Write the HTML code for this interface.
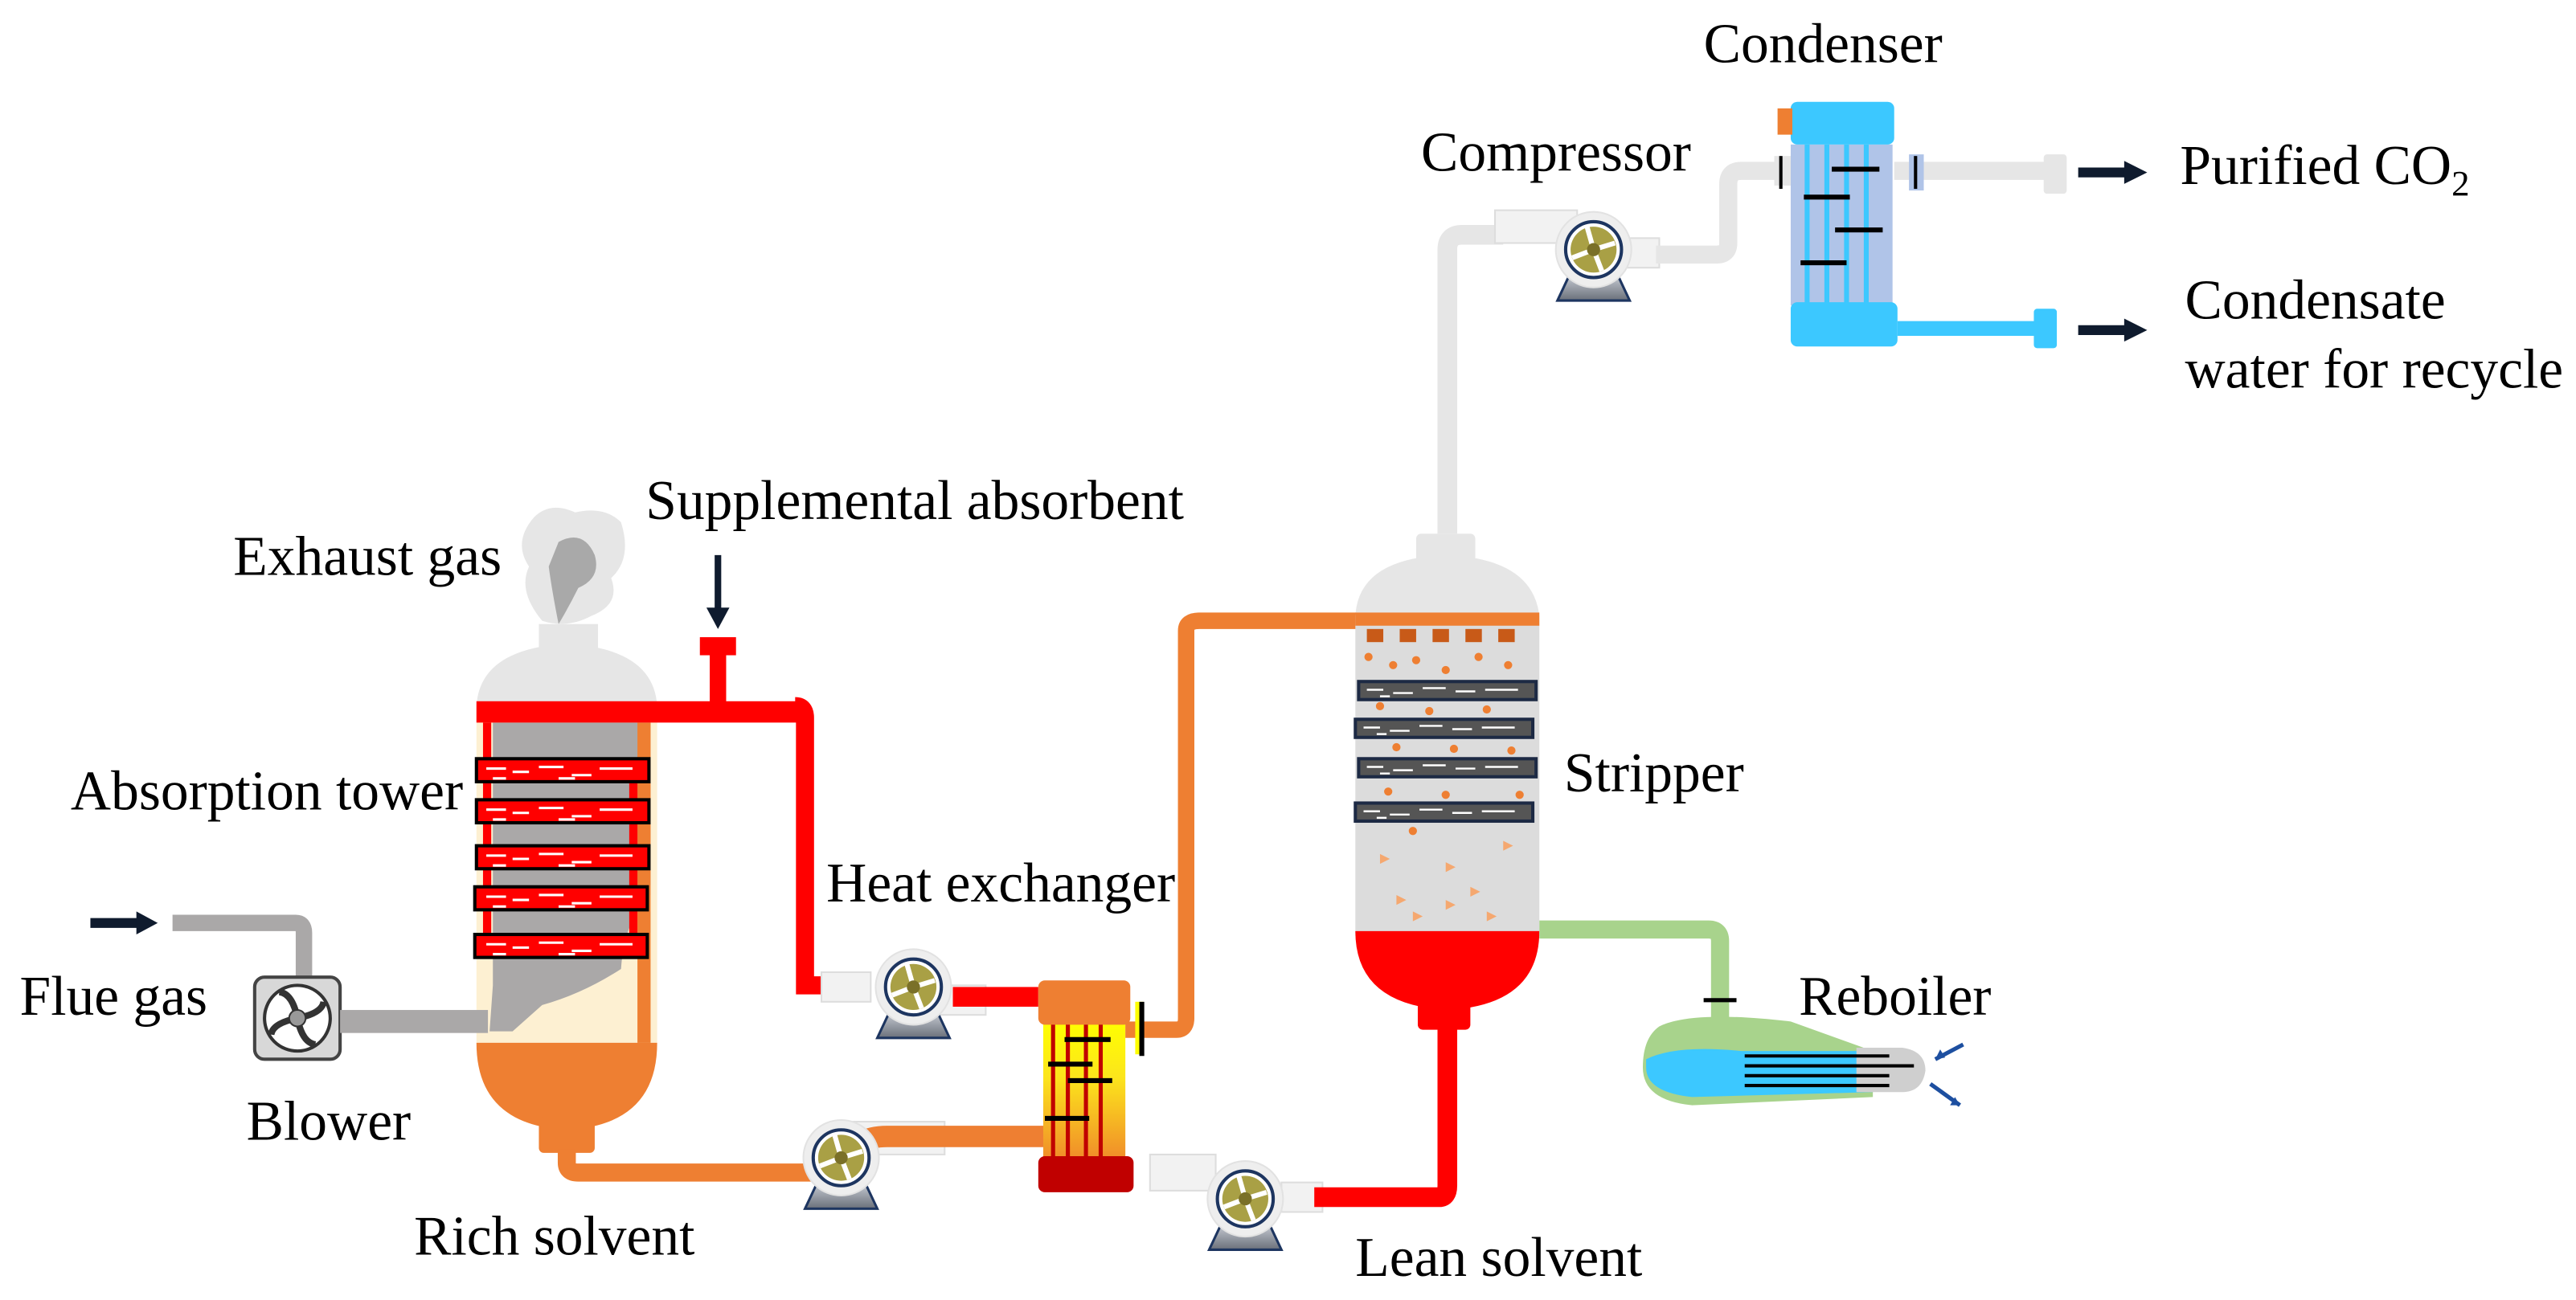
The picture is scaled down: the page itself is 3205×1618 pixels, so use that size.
<!DOCTYPE html>
<html><head><meta charset="utf-8"><style>
html,body{margin:0;padding:0;background:#fff;}
svg{display:block}
text{font-family:"Liberation Serif",serif;fill:#000;}
</style></head><body>
<svg width="3205" height="1618" viewBox="0 0 1568 791.6" xmlns="http://www.w3.org/2000/svg">
<defs>
<linearGradient id="hx" x1="0" y1="0" x2="0" y2="1"><stop offset="0" stop-color="#ffff00"/><stop offset="0.4" stop-color="#fce51c"/><stop offset="1" stop-color="#f08a2a"/></linearGradient>
<linearGradient id="base" x1="0" y1="0" x2="0" y2="1"><stop offset="0" stop-color="#d0d4dc"/><stop offset="1" stop-color="#6a707a"/></linearGradient>
<g id="pump">
<path d="M-14,14 L-22,31 L22,31 L14,14 Z" fill="url(#base)" stroke="#1d3560" stroke-width="1.5"/>
<circle r="23" fill="#eee" stroke="#e2e2e2"/>
<circle r="17" fill="#fff" stroke="#1d3560" stroke-width="2"/>
<circle r="14" fill="#a9a045"/>
<path d="M0,0 L-4,-14 M0,0 L13,-4 M0,0 L5,13 M0,0 L-13,5" stroke="#fff" stroke-width="3"/>
<circle r="4" fill="#7a7028"/>
</g>
</defs>

<!-- Smoke -->
<path d="M325,315 Q335,305 350,312 Q368,308 378,318 Q385,340 372,352 Q378,368 360,375 Q345,383 330,378 Q315,360 322,345 Q312,330 325,315 Z" fill="#e6e6e6"/>
<path d="M340,330 Q355,322 362,338 Q366,352 352,358 Q346,370 340,380 Q336,360 334,345 Z" fill="#a9a9a9"/>

<!-- Absorption tower -->
<rect x="328" y="380" width="36" height="20" fill="#e6e6e6"/>
<path d="M290,430 Q292,395 345,392 Q398,395 400,430 Z" fill="#e6e6e6"/>
<rect x="290" y="430" width="110" height="205" fill="#fdf0d2"/>
<path d="M296,440 L396,440 L396,545 Q380,560 378,590 Q355,605 330,612 L312,628 L298,628 L300,600 L300,440 Z" fill="#aaa8a8"/>
<path d="M290,635 L400,635 Q400,685 345,688 Q290,685 290,635 Z" fill="#ee7f32"/>
<rect x="328" y="680" width="34" height="22" rx="3" fill="#ee7f32"/>
<rect x="388" y="440" width="8" height="195" fill="#ee7f32"/>
<rect x="294" y="440" width="5" height="140" fill="#ff0000"/>
<rect x="383" y="470" width="5" height="100" fill="#ff0000"/>
<g stroke="#000" stroke-width="2" fill="#ff0000">
<rect x="290" y="462" width="105" height="14"/>
<rect x="290" y="487" width="105" height="14"/>
<rect x="290" y="515" width="105" height="14"/>
<rect x="289" y="540" width="105" height="14"/>
<rect x="289" y="569" width="105" height="14"/>
</g>
<g stroke="#fff" stroke-width="1.5">
<path d="M296,468h12M312,470h10M328,467h15M348,472h12M365,468h20M300,474h8M340,474h10"/>
<path d="M296,493h12M312,495h10M328,492h15M348,497h12M365,493h20M300,499h8M340,499h10"/>
<path d="M296,521h12M312,523h10M328,520h15M348,525h12M365,521h20M300,527h8M340,527h10"/>
<path d="M296,546h12M312,548h10M328,545h15M348,550h12M365,546h20M300,552h8M340,552h10"/>
<path d="M296,575h12M312,577h10M328,574h15M348,579h12M365,575h20M300,581h8M340,581h10"/>
</g>

<!-- Red top pipe -->
<rect x="290" y="427" width="200" height="13" fill="#ff0000"/>
<path d="M484,430 Q490,430 490,437 L490,600 L528,600" stroke="#ff0000" stroke-width="11" fill="none"/>
<rect x="432" y="396" width="10" height="34" fill="#ff0000"/>
<rect x="426" y="388" width="22" height="11" fill="#ff0000"/>
<path d="M437,338 V374" stroke="#0f1b2e" stroke-width="4"/>
<path d="M430,370 L437,383 L444,370 Z" fill="#0f1b2e"/>

<!-- Flue gas -->
<path d="M55,562 H85" stroke="#0f1b2e" stroke-width="6"/>
<path d="M83,555 L96,562 L83,569 Z" fill="#0f1b2e"/>
<path d="M105,562 H180 Q185,562 185,568 V595" stroke="#aaa8a8" stroke-width="10" fill="none"/>
<rect x="155" y="595" width="52" height="50" rx="6" fill="#d8d8d8" stroke="#444" stroke-width="2"/>
<circle cx="181" cy="620" r="20" fill="#fff" stroke="#333" stroke-width="2"/>
<g stroke="#333" stroke-width="4" fill="none"><path d="M181,620 Q178,605 170,604"/><path d="M181,620 Q196,617 197,610"/><path d="M181,620 Q184,635 192,636"/><path d="M181,620 Q166,623 165,630"/></g>
<circle cx="181" cy="620" r="5" fill="#999" stroke="#333"/>
<rect x="207" y="615" width="90" height="14" fill="#aaa8a8"/>

<!-- Rich solvent pipe -->
<path d="M345,700 V708 Q345,714 352,714 H495" stroke="#ee7f32" stroke-width="11" fill="none"/>
<rect x="515" y="683" width="60" height="20" fill="#f2f2f2" stroke="#ddd"/>
<path d="M512,708 Q520,692 540,692 H640" stroke="#ee7f32" stroke-width="13" fill="none"/>
<use href="#pump" x="512" y="705"/>

<!-- Pump 1 -->
<rect x="500" y="592" width="30" height="18" fill="#f2f2f2" stroke="#ddd"/>
<rect x="570" y="600" width="30" height="18" fill="#f2f2f2" stroke="#ddd"/>
<use href="#pump" x="556" y="601"/>
<rect x="580" y="601" width="52" height="12" fill="#ff0000"/>

<!-- Heat exchanger -->
<rect x="635" y="622" width="50" height="85" fill="url(#hx)"/>
<g stroke="#c00000" stroke-width="2.5"><path d="M641,620V708M650,620V708M661,620V708M670,620V708"/></g>
<g stroke="#000" stroke-width="3"><path d="M648,633H676M638,648H665M650,658H677M636,681H663"/></g>
<rect x="632" y="597" width="56" height="27" rx="4" fill="#ee7f32"/>
<rect x="632" y="704" width="58" height="22" rx="4" fill="#c00000"/>
<path d="M685,627 H716 Q722,627 722,620 V384 Q722,378 730,378 H935" stroke="#ee7f32" stroke-width="10" fill="none"/>
<rect x="691" y="610" width="5" height="32" fill="#ffff00"/>
<path d="M695,610 V643" stroke="#000" stroke-width="3"/>

<!-- Pump 3 / lean solvent -->
<rect x="700" y="703" width="40" height="22" fill="#f2f2f2" stroke="#ddd"/>
<rect x="780" y="720" width="25" height="18" fill="#f2f2f2" stroke="#ddd"/>
<use href="#pump" x="758" y="730"/>
<path d="M800,729 H876 Q881,729 881,722 V620" stroke="#ff0000" stroke-width="12" fill="none"/>

<!-- Stripper -->
<rect x="862" y="325" width="36" height="25" rx="3" fill="#e6e6e6"/>
<path d="M825,375 Q827,340 880,338 Q933,340 937,375 Z" fill="#e6e6e6"/>
<rect x="825" y="375" width="112" height="195" fill="#dcdcdc"/>
<path d="M825,567 H937 Q937,612 881,615 Q825,612 825,567 Z" fill="#ff0000"/>
<rect x="863" y="605" width="32" height="22" rx="3" fill="#ff0000"/>
<rect x="825" y="373" width="112" height="8" fill="#ee7f32"/>
<g fill="#c85a18"><rect x="832" y="383" width="10" height="8"/><rect x="852" y="383" width="10" height="8"/><rect x="872" y="383" width="10" height="8"/><rect x="892" y="383" width="10" height="8"/><rect x="912" y="383" width="10" height="8"/></g>
<g fill="#ee7f32"><circle cx="833" cy="400" r="2.5"/><circle cx="848" cy="405" r="2.5"/><circle cx="862" cy="402" r="2.5"/><circle cx="880" cy="408" r="2.5"/><circle cx="900" cy="400" r="2.5"/><circle cx="918" cy="405" r="2.5"/><circle cx="840" cy="430" r="2.5"/><circle cx="870" cy="433" r="2.5"/><circle cx="905" cy="432" r="2.5"/><circle cx="850" cy="455" r="2.5"/><circle cx="885" cy="456" r="2.5"/><circle cx="920" cy="457" r="2.5"/><circle cx="845" cy="482" r="2.5"/><circle cx="880" cy="484" r="2.5"/><circle cx="925" cy="484" r="2.5"/><circle cx="860" cy="506" r="2.5"/></g>
<g fill="#f5a870"><path d="M840,520l6,3l-6,3z"/><path d="M880,525l6,3l-6,3z"/><path d="M915,512l6,3l-6,3z"/><path d="M850,545l6,3l-6,3z"/><path d="M895,540l6,3l-6,3z"/><path d="M905,555l6,3l-6,3z"/><path d="M860,555l6,3l-6,3z"/><path d="M880,548l6,3l-6,3z"/></g>
<g fill="#555" stroke="#1d2a44" stroke-width="2">
<rect x="827" y="415" width="108" height="11"/><rect x="825" y="438" width="108" height="11"/><rect x="827" y="462" width="108" height="11"/><rect x="825" y="489" width="108" height="11"/>
</g>
<g stroke="#fff" stroke-width="1.2">
<path d="M832,420h10M848,422h12M866,419h14M886,421h12M904,420h20M840,424h6"/>
<path d="M830,443h10M846,445h12M864,442h14M884,444h12M902,443h20M838,447h6"/>
<path d="M832,467h10M848,469h12M866,466h14M886,468h12M904,467h20M840,471h6"/>
<path d="M830,494h10M846,496h12M864,493h14M884,495h12M902,494h20M838,498h6"/>
</g>

<!-- grey vapour pipe to compressor -->
<path d="M881,325 V152 Q881,143 890,143 H915" stroke="#e6e6e6" stroke-width="12" fill="none"/>
<rect x="910" y="128" width="50" height="20" fill="#f2f2f2" stroke="#ddd"/>
<rect x="985" y="145" width="25" height="18" fill="#f2f2f2" stroke="#ddd"/>
<use href="#pump" x="970" y="152"/>
<path d="M1008,155 H1045 Q1052,155 1052,148 V112 Q1052,104 1060,104 H1090" stroke="#e6e6e6" stroke-width="11" fill="none"/>

<!-- Condenser -->
<rect x="1090" y="88" width="62" height="98" fill="#b0c4e8"/>
<g stroke="#3cc8ff" stroke-width="3"><path d="M1100,88V186M1112,88V186M1124,88V186M1136,88V186"/></g>
<g stroke="#000" stroke-width="3"><path d="M1115,103H1144M1098,120H1126M1117,140H1146M1096,160H1124"/></g>
<rect x="1090" y="62" width="63" height="26" rx="4" fill="#3cc8ff"/>
<rect x="1082" y="66" width="9" height="16" fill="#ee7f32"/>
<rect x="1090" y="184" width="65" height="27" rx="4" fill="#3cc8ff"/>
<rect x="1080" y="95" width="10" height="18" fill="#e6e6e6"/>
<path d="M1084,95V115" stroke="#000" stroke-width="2"/>
<path d="M1153,104 H1250" stroke="#e6e6e6" stroke-width="11"/>
<rect x="1244" y="94" width="14" height="24" rx="2" fill="#e6e6e6"/>
<rect x="1162" y="94" width="9" height="22" fill="#b0c4e8"/>
<path d="M1166,95V115" stroke="#000" stroke-width="2"/>
<path d="M1155,200 H1245" stroke="#3cc8ff" stroke-width="9"/>
<rect x="1238" y="188" width="14" height="24" rx="2" fill="#3cc8ff"/>
<path d="M1265,105 H1295" stroke="#0f1b2e" stroke-width="6"/><path d="M1293,98 L1307,105 L1293,112 Z" fill="#0f1b2e"/>
<path d="M1265,201 H1295" stroke="#0f1b2e" stroke-width="6"/><path d="M1293,194 L1307,201 L1293,208 Z" fill="#0f1b2e"/>

<!-- Reboiler -->
<path d="M937,566 H1040 Q1047,566 1047,573 V622" stroke="#a8d38c" stroke-width="11" fill="none"/>
<path d="M1037,609H1057" stroke="#000" stroke-width="2.5"/>
<path d="M1010,625 Q1030,615 1090,622 L1140,640 L1140,668 L1030,673 Q1000,670 1000,650 Q1000,632 1010,625 Z" fill="#a8d38c"/>
<path d="M1002,645 Q1020,636 1060,640 L1140,640 L1140,665 L1030,668 Q1002,665 1002,650 Z" fill="#3cc8ff"/>
<path d="M1130,638 H1158 Q1172,640 1172,652 Q1170,665 1158,665 H1130 Z" fill="#cfcfcf"/>
<g stroke="#000" stroke-width="2"><path d="M1062,643H1150M1062,649H1165M1062,655H1150M1062,661H1150"/></g>
<path d="M1195,636 L1178,645" stroke="#1d4fa0" stroke-width="2.5"/><path d="M1178,645 l3,-6 l3,5z" fill="#1d4fa0"/>
<path d="M1175,660 L1193,673" stroke="#1d4fa0" stroke-width="2.5"/><path d="M1193,673 l-6,0 l3,-5z" fill="#1d4fa0"/>

<!-- Labels -->
<g font-size="34">
<text x="1037" y="38">Condenser</text>
<text x="865" y="104">Compressor</text>
<text x="1327" y="112">Purified CO<tspan font-size="22" dy="7">2</tspan></text>
<text x="1330" y="194">Condensate</text>
<text x="1330" y="236">water for recycle</text>
<text x="393" y="316">Supplemental absorbent</text>
<text x="142" y="350">Exhaust gas</text>
<text x="43" y="493">Absorption tower</text>
<text x="952" y="482">Stripper</text>
<text x="503" y="549">Heat exchanger</text>
<text x="12" y="618">Flue gas</text>
<text x="1095" y="618">Reboiler</text>
<text x="150" y="694">Blower</text>
<text x="252" y="764">Rich solvent</text>
<text x="825" y="777">Lean solvent</text>
</g>
</svg>
</body></html>
